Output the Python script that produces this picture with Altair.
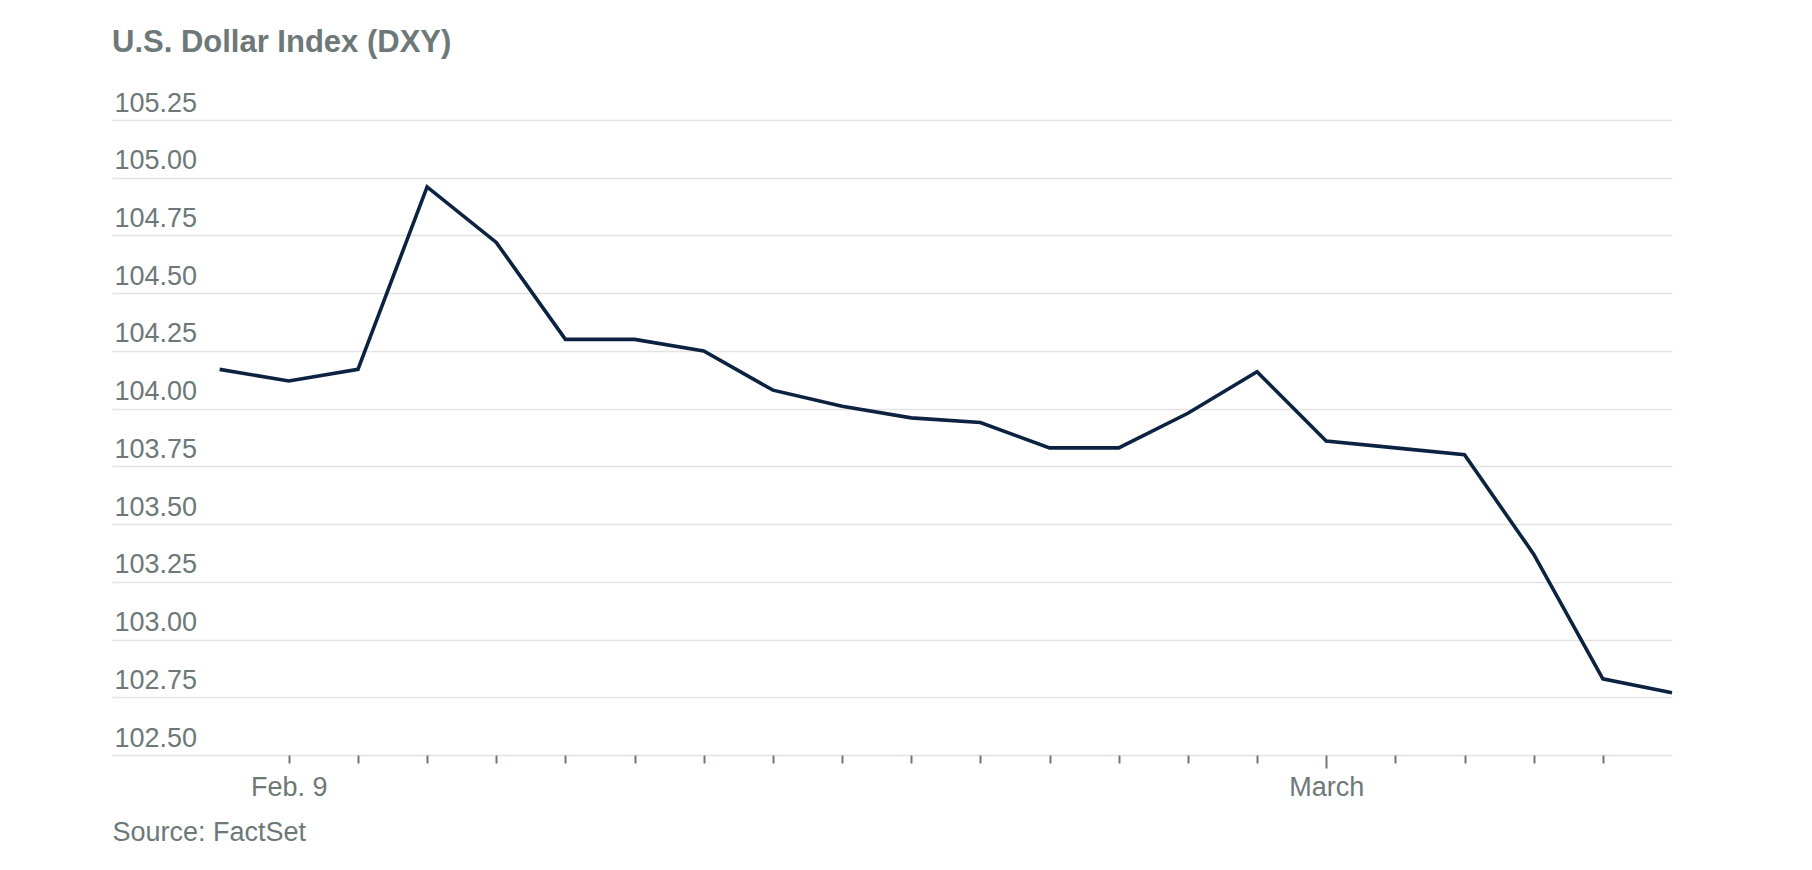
import altair as alt
import pandas as pd

# Trading days shown (Feb. 8 2024 -> Mar. 8 2024)
dates = ["Feb. 8", "Feb. 9", "Feb. 12", "Feb. 13", "Feb. 14", "Feb. 15", "Feb. 16",
         "Feb. 19", "Feb. 20", "Feb. 21", "Feb. 22", "Feb. 23", "Feb. 26", "Feb. 27",
         "Feb. 28", "Feb. 29", "Mar. 1", "Mar. 4", "Mar. 5", "Mar. 6", "Mar. 7", "Mar. 8"]
dxy = [104.17, 104.12, 104.17, 104.96, 104.72, 104.30, 104.30, 104.25, 104.08, 104.01,
       103.96, 103.94, 103.83, 103.83, 103.98, 104.16, 103.86, 103.83, 103.80, 103.37,
       102.83, 102.77]
tick_dates = dates[1:21]
tick_labels = {"Feb. 9": "Feb. 9", "Mar. 1": "March"}
long_tick = "Mar. 1"
y_ticks = [102.50, 102.75, 103.00, 103.25, 103.50, 103.75, 104.00, 104.25,
           104.50, 104.75, 105.00, 105.25]

df = pd.DataFrame({"date": dates, "dxy": dxy, "idx": list(range(len(dates)))})

tick_vals = [dates.index(d) for d in tick_dates]
label_expr = " : ".join(
    f"datum.value === {dates.index(k)} ? '{v}'" for k, v in tick_labels.items()
) + " : ''"
long_test = f"datum.value === {dates.index(long_tick)}"

TEXT = "#6d7878"
FONT = "Liberation Sans"

chart = alt.Chart(df).mark_line(color="#0c2241", strokeWidth=3.6, strokeJoin="miter").encode(
    x=alt.X(
        "idx:Q",
        scale=alt.Scale(domain=[-1.556, 21], nice=False, zero=False),
        axis=alt.Axis(
            values=tick_vals,
            labelExpr=label_expr,
            grid=False,
            domain=False,
            tickColor=TEXT,
            tickWidth=2,
            tickSize={"condition": {"test": long_test, "value": 13}, "value": 8},
            labelFont=FONT,
            labelFontSize=27,
            labelColor=TEXT,
            labelBaseline="alphabetic",
            labelPadding={"condition": {"test": long_test, "value": 27}, "value": 32},
            labelFlush=False,
            labelOverlap=False,
            title="Source: FactSet",
            titleFont=FONT,
            titleFontSize=27,
            titleFontWeight="normal",
            titleColor=TEXT,
            titleAnchor="start",
            titleAlign="left",
            titleBaseline="alphabetic",
            titleX=0,
            titleY=85,
        ),
    ),
    y=alt.Y(
        "dxy:Q",
        scale=alt.Scale(domain=[102.5, 105.25], nice=False, zero=False),
        axis=alt.Axis(
            values=y_ticks,
            format=".2f",
            ticks=False,
            domain=False,
            grid=True,
            gridColor="#e3e3e3",
            gridWidth=1.6,
            labelAlign="left",
            labelBaseline="alphabetic",
            labelPadding=-2,
            labelOffset=-9,
            labelFlush=False,
            labelOverlap=False,
            labelFont=FONT,
            labelFontSize=27,
            labelColor=TEXT,
            title=None,
        ),
    ),
).properties(
    width=1560,
    height=635,
    background="white",
    title=alt.TitleParams(
        "U.S. Dollar Index (DXY)",
        anchor="start",
        font=FONT,
        fontSize=31,
        fontWeight="bold",
        color=TEXT,
        offset=30,
    ),
    autosize=alt.AutoSizeParams(type="none"),
    padding={"left": 104, "top": 112, "right": 110, "bottom": 95},
).configure_view(stroke=None, strokeWidth=0)

chart.save("out.html", embed_options={"renderer": "svg", "actions": False})
